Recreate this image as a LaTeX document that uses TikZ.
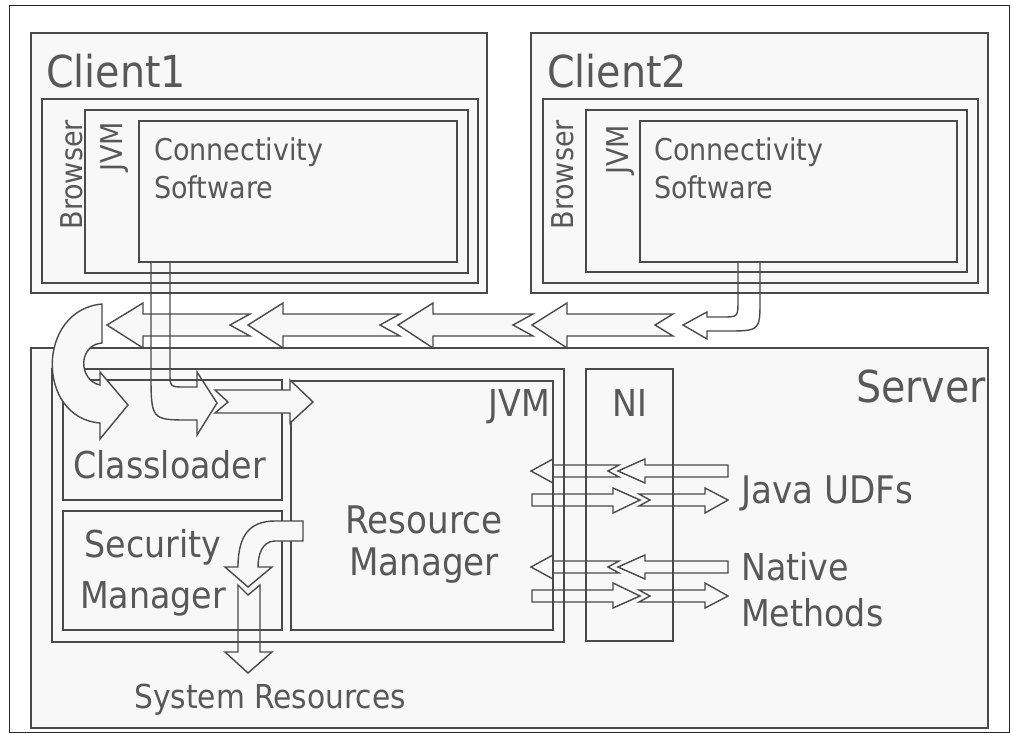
\documentclass[tikz,border=0pt]{standalone}
\usepackage{fontspec}
\setmainfont{DejaVu Sans Condensed}
\usepackage{tikz}
\definecolor{boxbg}{HTML}{F8F8F8}
\definecolor{boxln}{HTML}{4A4A4A}
\definecolor{boxtxt}{HTML}{585858}

\begin{document}
\begin{tikzpicture}[x=1pt,y=-1pt,
  box/.style={draw=boxln,fill=boxbg,line width=1.6pt},
  blk/.style={draw=boxln,fill=boxbg,line width=1.4pt},
  blkline/.style={draw=boxln,line width=1.4pt},
  big/.style={text=boxtxt,inner sep=0pt,font=\fontsize{44}{53}\selectfont},
  mid/.style={text=boxtxt,inner sep=0pt,font=\fontsize{37}{46}\selectfont},
  small/.style={text=boxtxt,inner sep=0pt,font=\fontsize{30}{38}\selectfont}]
  \useasboundingbox (0,0) rectangle (1011,734);
  \draw[black!85,line width=1.6pt] (9.5,5.5) rectangle (1009.5,732.5);

  % clients
  \draw[box] (31,33) rectangle (487,293);
  \draw[box] (42,99) rectangle (478,283);
  \draw[box] (85,110) rectangle (468,273);
  \draw[box] (139,121) rectangle (457,262);
  \draw[box] (531,33) rectangle (988,293);
  \draw[box] (543,99) rectangle (978,283);
  \draw[box] (586,110) rectangle (967,272);
  \draw[box] (640,121) rectangle (957,262);

  \draw (46,87) node[big,anchor=base west] (client1) {Client1};
  \draw (82,120) node[small,rotate=90,anchor=base east] (browser1) {Browser};
  \draw (122,122) node[small,rotate=90,anchor=base east] (jvm1) {JVM};
  \draw (154,198) node[small,anchor=base west,align=left] (conn1) {Connectivity\\Software};
  \draw (547,87) node[big,anchor=base west] (client2) {Client2};
  \draw (573,120) node[small,rotate=90,anchor=base east] (browser2) {Browser};
  \draw (628,125) node[small,rotate=90,anchor=base east] (jvm2) {JVM};
  \draw (654,198) node[small,anchor=base west,align=left] (conn2) {Connectivity\\Software};

  % server
  \draw[box] (31,348) rectangle (988,728);
  \draw[box] (52,369) rectangle (564,642);
  \draw[box] (63,380) rectangle (282,500);
  \draw[box] (63,511) rectangle (282,630);
  \draw[box] (291,381) rectangle (553,630);
  \draw[box] (586,369) rectangle (673,641);

  \draw (986,402) node[big,anchor=base east] (server) {Server};
  \draw (550,416) node[mid,anchor=base east] (jvm) {JVM};
  \draw (630,416) node[mid,anchor=base] (ni) {NI};
  \draw (73,478) node[mid,anchor=base west] (classloader) {Classloader};
  \draw (153,608) node[mid,anchor=base,align=center,font=\fontsize{37}{51}\selectfont] (security) {Security\\Manager};
  \draw (424,575) node[mid,anchor=base,align=center,font=\fontsize{38}{42}\selectfont] (resource) {Resource\\Manager};
  \draw (741,503) node[mid,anchor=base west,font=\fontsize{38}{46}\selectfont] (javaudf) {Java UDFs};
  \draw (741,626) node[mid,anchor=base west,align=left] (native) {Native\\Methods};
  \draw (134,708) node[mid,anchor=base west,font=\fontsize{33}{40}\selectfont] (sysres) {System Resources};

  % return path from client2
  \draw[blk] (107,325) -- (143,303) -- (143,314) -- (250,314) -- (230,325) -- (250,336) -- (143,336) -- (143,348) -- cycle;
  \draw[blk] (248,325) -- (283,303) -- (283,314) -- (400,314) -- (380,325) -- (400,336) -- (283,336) -- (283,348) -- cycle;
  \draw[blk] (398,325) -- (433,303) -- (433,314) -- (533,314) -- (513,325) -- (533,336) -- (433,336) -- (433,348) -- cycle;
  \draw[blk] (532,325) -- (567,303) -- (567,314) -- (673,314) -- (655,325) -- (673,336) -- (567,336) -- (567,348) -- cycle;
  \draw[blkline] (738,262) -- (738,300) .. controls (738,317) .. (722,317) -- (707,317) -- (707,312) -- (683,325)
    -- (707,339) -- (707,331) -- (725,331) .. controls (760,331) .. (760,300) -- (760,262);
  \draw[blk] (102,304) .. controls (36,310) and (36,418) .. (100,423) -- (100,439) -- (128,405) -- (100,372)
    -- (100,385) .. controls (78,380) and (78,345) .. (102,343) -- cycle;

  % client1 down into the server
  \draw[blkline] (151,262) -- (151,372) .. controls (151,420) .. (190,420) -- (197,420) -- (197,435) -- (217,403)
    -- (197,372) -- (197,387) -- (185,387) .. controls (170,387) .. (170,372) -- (170,262);
  \draw[blk] (215,390) -- (290,390) -- (290,380) -- (313,402) -- (290,423) -- (290,413) -- (215,413) -- (228,402) -- cycle;

  % security manager to system resources
  \draw[blk] (303,521) -- (303,541) -- (275,541) .. controls (262,541) and (258,555) .. (258,567) -- (272,567)
    -- (248,587) -- (225,567) -- (238,567) .. controls (238,535) and (250,521) .. (275,521) -- cycle;
  \draw[blkline] (238,585) -- (248,595) -- (260,585) -- (260,652) -- (272,652) -- (248,673) -- (225,652) -- (238,652) -- cycle;

  % native interface
  \draw[blkline] (728,465) -- (645,465) -- (645,459) -- (618,471) -- (645,483) -- (645,477) -- (728,477) -- cycle;
  \draw[blkline] (619,465) -- (553,465) -- (553,459) -- (531,471) -- (553,483) -- (553,477) -- (619,477) -- (608,471) -- cycle;
  \draw[blkline] (532,494) -- (613,494) -- (613,488) -- (640,500) -- (613,513) -- (613,506) -- (532,506) -- cycle;
  \draw[blkline] (639,494) -- (705,494) -- (705,488) -- (728,500) -- (705,513) -- (705,506) -- (639,506) -- (650,500) -- cycle;
  \draw[blkline] (728,561) -- (645,561) -- (645,555) -- (618,567) -- (645,579) -- (645,573) -- (728,573) -- cycle;
  \draw[blkline] (619,561) -- (553,561) -- (553,555) -- (531,567) -- (553,579) -- (553,573) -- (619,573) -- (608,567) -- cycle;
  \draw[blkline] (532,590) -- (613,590) -- (613,583) -- (640,596) -- (613,608) -- (613,602) -- (532,602) -- cycle;
  \draw[blkline] (639,590) -- (705,590) -- (705,583) -- (728,596) -- (705,608) -- (705,602) -- (639,602) -- (650,596) -- cycle;
\end{tikzpicture}
\end{document}
